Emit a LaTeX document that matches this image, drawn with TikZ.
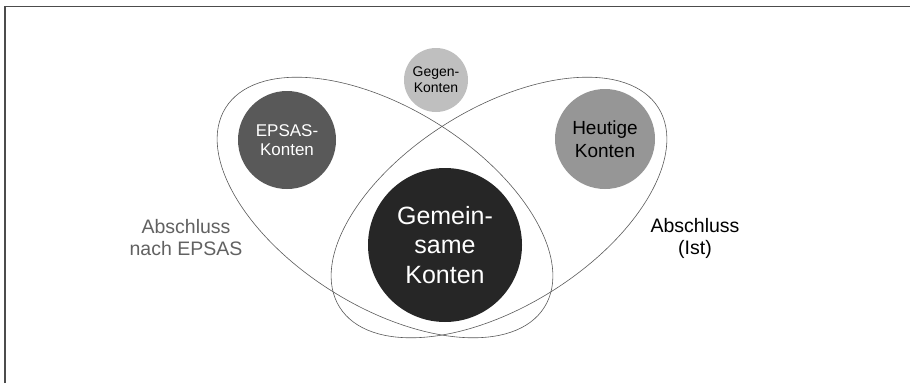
\documentclass[tikz,border=0pt]{standalone}
\usepackage{fontspec}
\setmainfont{Liberation Sans}
\usepackage{tikz}

\begin{document}
\begin{tikzpicture}[x=1pt,y=-1pt,
  konto/.style={circle,inner sep=0pt,align=center},
  bereich/.style={draw=black!65,line width=0.6pt},
  rahmen/.style={draw=black!70,line width=1.6pt}]
\useasboundingbox (0,0) rectangle (910,383);
\draw[rahmen] (5,383) -- (5,6.5) -- (910,6.5);
\draw[bereich,rotate around={-32:(385,207.5)}] (385,207.5) ellipse (188 and 99);
\draw[bereich,rotate around={32:(499,207.5)}] (499,207.5) ellipse (188 and 99);
\node[konto,fill=black!25,minimum size=64pt,font=\fontsize{14}{16}\selectfont] (gegen) at (436,80) {Gegen-\\Konten};
\node[konto,fill=black!65,text=white,minimum size=98pt,font=\fontsize{17}{18.5}\selectfont] (epsas) at (287,140) {EPSAS-\\Konten};
\node[konto,fill=black!41,minimum size=100pt,font=\fontsize{19}{23}\selectfont] (heutige) at (605,139) {Heutige\\Konten};
\node[konto,fill=black!85,text=white,minimum size=154pt,font=\fontsize{25}{29.5}\selectfont] (gemeinsam) at (445,245) {Gemein-\\same\\Konten};
\node[align=center,text=black!62,font=\fontsize{19.5}{21.5}\selectfont] (nachepsas) at (186,237.5) {Abschluss\\nach EPSAS};
\node[align=center,font=\fontsize{19.5}{21.5}\selectfont] (ist) at (695,238.5) {Abschluss\\(Ist)};
\end{tikzpicture}
\end{document}
